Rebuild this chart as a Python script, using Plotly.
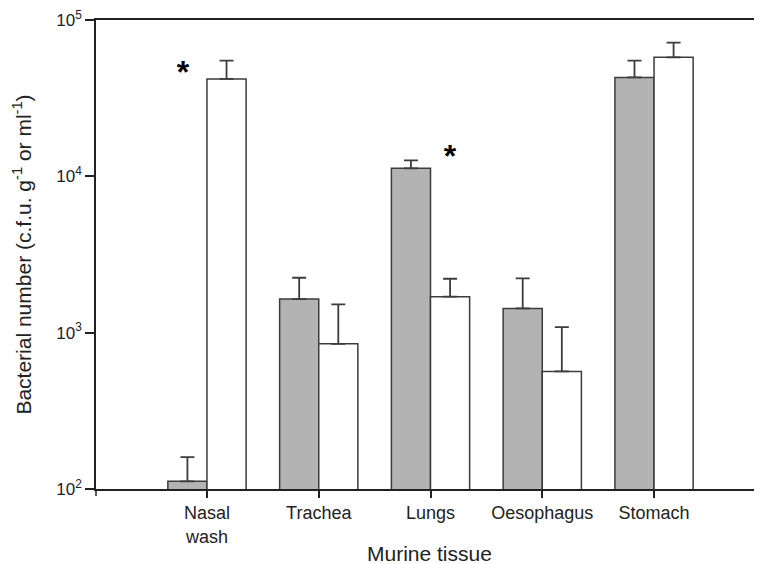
import plotly.graph_objects as go

categories = ["Nasal<br>wash", "Trachea", "Lungs", "Oesophagus", "Stomach"]
grey_values = [112, 1640, 11250, 1430, 42900]
grey_err_top = [160, 2245, 12650, 2225, 55000]
white_values = [42000, 849, 1698, 565, 57700]
white_err_top = [55000, 1517, 2213, 1086, 71600]
star_x = [-0.215, 2.175]
star_y = [44500, 12900]
y_tickvals = [100, 1000, 10000, 100000]
y_ticktext = ["10<sup>2</sup>", "10<sup>3</sup>", "10<sup>4</sup>", "10<sup>5</sup>"]
x_title = "Murine tissue"
y_title = "Bacterial number (c.f.u. g<sup>-1</sup> or ml<sup>-1</sup>)"

pos = list(range(len(categories)))
off = 0.175
bw = 0.35
edge = "#3c3c3c"
axc = "#222222"

fig = go.Figure()
fig.add_trace(go.Bar(
    x=[p - off for p in pos], y=grey_values, width=bw,
    marker=dict(color="#b3b3b3", line=dict(color=edge, width=1.5)),
    error_y=dict(type="data", symmetric=False,
                 array=[t - v for t, v in zip(grey_err_top, grey_values)],
                 arrayminus=[0] * len(pos), color=edge, thickness=1.8, width=7),
    showlegend=False,
))
fig.add_trace(go.Bar(
    x=[p + off for p in pos], y=white_values, width=bw,
    marker=dict(color="white", line=dict(color=edge, width=1.5)),
    error_y=dict(type="data", symmetric=False,
                 array=[t - v for t, v in zip(white_err_top, white_values)],
                 arrayminus=[0] * len(pos), color=edge, thickness=1.8, width=7),
    showlegend=False,
))
fig.add_trace(go.Scatter(
    x=star_x, y=star_y, mode="text", text=["<b>*</b>"] * len(star_x),
    textfont=dict(size=32, color="black", family="Liberation Sans, Arial"),
    textposition="middle center", showlegend=False, hoverinfo="skip",
))

fig.update_layout(
    width=762, height=564,
    margin=dict(l=88, r=8, t=12, b=83, autoexpand=False),
    plot_bgcolor="white", paper_bgcolor="white",
    font=dict(family="Liberation Sans, Arial, sans-serif", size=18, color="#222"),
    barmode="overlay",
    xaxis=dict(
        range=[-0.993, 4.966], tickvals=pos, ticktext=categories,
        showline=True, linecolor=axc, linewidth=1.5, mirror=True,
        ticks="outside", ticklen=7, tickcolor=axc, tickwidth=1.5,
        showgrid=False, zeroline=False, automargin=False,
        tickfont=dict(size=18),
    ),
    yaxis=dict(
        type="log", range=[2, 5], tickvals=y_tickvals, ticktext=y_ticktext,
        showline=True, linecolor=axc, linewidth=1.5,
        ticks="outside", ticklen=9, tickcolor=axc, tickwidth=1.5,
        showgrid=False, zeroline=False, ticklabeloverflow="allow", automargin=False,
        title=dict(text=y_title, font=dict(size=21), standoff=19),
        tickfont=dict(size=17),
    ),
    shapes=[dict(type="line", xref="paper", yref="paper", x0=0, x1=0,
                 y0=0, y1=-0.015, line=dict(color=axc, width=1.5))],
    annotations=[dict(text=x_title, xref="paper", yref="paper", x=0.5, y=-0.138,
                      xanchor="center", yanchor="middle", showarrow=False,
                      font=dict(size=21, color="#222"))],
)

fig.write_html("out.html")
